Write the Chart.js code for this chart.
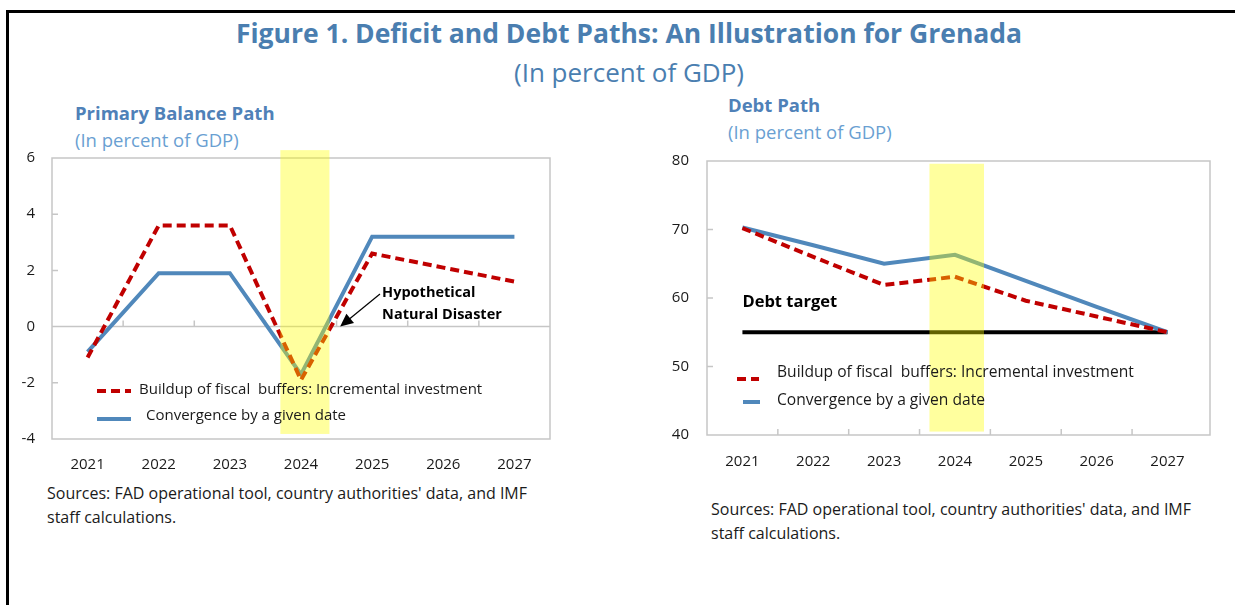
<!DOCTYPE html>
<html>
<head>
<meta charset="utf-8">
<script src="https://cdn.jsdelivr.net/npm/chart.js@4/dist/chart.umd.min.js"></script>
<style>
    body { margin: 0; width: 1235px; height: 605px; background: #fff; position: relative; overflow: hidden; font-family: "Open Sans", sans-serif; }
    .rule-top { position: absolute; left: 6px; top: 10px; width: 1229px; height: 3px; background: #000; }
    .rule-left { position: absolute; left: 6px; top: 10px; width: 3px; height: 595px; background: #000; }
    .txt { position: absolute; white-space: nowrap; }
    .fig-title { left: 229px; width: 800px; top: 16px; text-align: center; font-size: 26.5px; font-weight: 700; color: #4a7eb0; line-height: 34px; }
    .fig-sub { left: 229px; width: 800px; top: 55px; text-align: center; font-size: 26px; font-weight: 400; color: #4a7eb0; line-height: 34px; }
    .panel-title { font-size: 18.5px; font-weight: 700; color: #4f81b8; line-height: 26px; }
    .panel-sub { font-size: 18.5px; color: #6a9fd2; line-height: 26px; }
    .source { font-size: 16px; color: #1a1a1a; line-height: 24px; }
    canvas { position: absolute; }
</style>
</head>
<body>
<div class="rule-top"></div>
<div class="rule-left"></div>

<div class="txt fig-title">Figure 1. Deficit and Debt Paths: An Illustration for Grenada</div>
<div class="txt fig-sub">(In percent of GDP)</div>

<div class="txt panel-title" style="left:75px; top:100px;">Primary Balance Path</div>
<div class="txt panel-sub" style="left:75px; top:127px;">(In percent of GDP)</div>
<div class="txt panel-title" style="left:728px; top:92px;">Debt Path</div>
<div class="txt panel-sub" style="left:728px; top:119px;">(In percent of GDP)</div>

<canvas id="pbChart" width="560" height="339" style="left:10px; top:140px;"></canvas>
<canvas id="debtChart" width="565" height="333" style="left:665px; top:142px;"></canvas>

<div class="txt source" style="left:47px; top:481px;">Sources: FAD operational tool, country authorities' data, and IMF<br>staff calculations.</div>
<div class="txt source" style="left:711px; top:497px;">Sources: FAD operational tool, country authorities' data, and IMF<br>staff calculations.</div>

<script>
const years = ['2021', '2022', '2023', '2024', '2025', '2026', '2027'];

// primary balance, percent of GDP
const pbBuffers = [-1.1, 3.6, 3.6, -1.9, 2.6, 2.1, 1.6];
const pbConvergence = [-0.9, 1.9, 1.9, -1.7, 3.2, 3.2, 3.2];
const pbTicks = [-4, -2, 0, 2, 4, 6];

// debt, percent of GDP
const debtBuffers = [70.2, 66.0, 61.9, 63.1, 59.6, 57.3, 55.0];
const debtConvergence = [70.3, 67.7, 65.0, 66.3, 62.5, 58.7, 55.0];
const debtTarget = [55, 55, 55, 55, 55, 55, 55];
const debtTicks = [40, 50, 60, 70, 80];

// disaster year shading: [x from, x to, y from, y to]
const pbDisasterBand = [2023.71, 2024.4, 6.28, -3.82];
const debtDisasterBand = [2023.64, 2024.41, 79.6, 40.5];

const buffersLabel = 'Buildup of fiscal  buffers: Incremental investment';
const convergenceLabel = 'Convergence by a given date';

const RED = '#c00000';
const BLUE = '#5088bb';

Chart.defaults.font.family = '"Open Sans", sans-serif';
Chart.defaults.font.size = 15;
Chart.defaults.color = '#1a1a1a';

// grey box round the plot, short inward ticks, the baseline with category dividers
const framePlugin = {
    id: 'frame',
    beforeDatasetsDraw(chart, args, opts) {
        const ctx = chart.ctx;
        const a = chart.chartArea;
        const x = chart.scales.x, y = chart.scales.y;
        ctx.save();
        ctx.strokeStyle = '#c6c6c6';
        ctx.lineWidth = 1.5;
        ctx.strokeRect(a.left, a.top, a.right - a.left, a.bottom - a.top);
        ctx.beginPath();
        y.ticks.forEach(function (t) {
            let py = y.getPixelForValue(t.value);
            if (py <= a.top + 1 || py >= a.bottom - 1) return;
            ctx.moveTo(a.left, py);
            ctx.lineTo(a.left + 6, py);
        });
        let base = y.getPixelForValue(opts.base);
        if (base < a.bottom - 1) {
            ctx.moveTo(a.left, base);
            ctx.lineTo(a.right, base);
        }
        for (let i = 0; i < years.length - 1; i++) {
            let bx = x.getPixelForValue(+years[i] + 0.5);
            ctx.moveTo(bx, base);
            ctx.lineTo(bx, base - 6);
        }
        ctx.stroke();
        ctx.restore();
    }
};

// yellow band, legend and text notes on top of the lines
const overlayPlugin = {
    id: 'overlay',
    afterDatasetsDraw(chart, args, opts) {
        const ctx = chart.ctx;
        const a = chart.chartArea;
        const x = chart.scales.x, y = chart.scales.y;
        ctx.save();

        let b = opts.band;
        let bx0 = x.getPixelForValue(b[0]), bx1 = x.getPixelForValue(b[1]);
        let by0 = y.getPixelForValue(b[2]), by1 = y.getPixelForValue(b[3]);
        ctx.fillStyle = 'rgba(255, 255, 0, 0.38)';
        ctx.fillRect(bx0, by0, bx1 - bx0, by1 - by0);

        // legend
        ctx.font = opts.legendFont + 'px "Open Sans", sans-serif';
        ctx.textBaseline = 'middle';
        ctx.fillStyle = '#1a1a1a';
        opts.legend.forEach(function (item) {
            let ds = chart.data.datasets[item.dataset];
            ctx.strokeStyle = ds.borderColor;
            ctx.lineWidth = 4;
            ctx.setLineDash(ds.borderDash || []);
            ctx.beginPath();
            ctx.moveTo(a.left + item.x0, a.top + item.y);
            ctx.lineTo(a.left + item.x1, a.top + item.y);
            ctx.stroke();
            ctx.setLineDash([]);
            ctx.fillText(ds.label, a.left + item.tx, a.top + item.ty);
        });

        // notes
        ctx.fillStyle = '#000';
        (opts.notes || []).forEach(function (n) {
            ctx.font = 'bold ' + n.size + 'px "Open Sans", sans-serif';
            ctx.fillText(n.text, x.getPixelForValue(n.x), y.getPixelForValue(n.y));
        });

        if (opts.arrow) {
            let p0 = {x: x.getPixelForValue(opts.arrow[0]), y: y.getPixelForValue(opts.arrow[1])};
            let p1 = {x: x.getPixelForValue(opts.arrow[2]), y: y.getPixelForValue(opts.arrow[3])};
            let ang = Math.atan2(p1.y - p0.y, p1.x - p0.x);
            ctx.strokeStyle = '#000';
            ctx.lineWidth = 1.2;
            ctx.beginPath();
            ctx.moveTo(p0.x, p0.y);
            ctx.lineTo(p1.x - 10 * Math.cos(ang), p1.y - 10 * Math.sin(ang));
            ctx.stroke();
            ctx.beginPath();
            ctx.moveTo(p1.x, p1.y);
            ctx.lineTo(p1.x - 13 * Math.cos(ang) + 6 * Math.sin(ang), p1.y - 13 * Math.sin(ang) - 6 * Math.cos(ang));
            ctx.lineTo(p1.x - 13 * Math.cos(ang) - 6 * Math.sin(ang), p1.y - 13 * Math.sin(ang) + 6 * Math.cos(ang));
            ctx.closePath();
            ctx.fill();
        }
        ctx.restore();
    }
};

// fixed axis sizes; layout.padding alone decides where the plot box sits
function yearAxis(max, pad) {
    return {
        type: 'linear',
        min: 2020.5,
        max: max,
        afterBuildTicks: function (s) { s.ticks = years.map(v => ({value: +v})); },
        afterFit: function (s) { s.height = 40; s.paddingLeft = 0; s.paddingRight = 0; },
        ticks: {padding: pad, maxRotation: 0, autoSkip: false, callback: v => String(v)},
        grid: {display: false, drawTicks: false},
        border: {display: false}
    };
}

function valueAxis(ticks, pad) {
    return {
        min: ticks[0],
        max: ticks[ticks.length - 1],
        afterBuildTicks: function (s) { s.ticks = ticks.map(v => ({value: v})); },
        afterFit: function (s) { s.width = 42; s.paddingTop = 0; s.paddingBottom = 0; },
        ticks: {padding: pad},
        grid: {display: false, drawTicks: false},
        border: {display: false}
    };
}

function lineSet(label, data, color, dash, order) {
    return {
        label: label,
        data: data,
        borderColor: color,
        borderWidth: 4,
        borderDash: dash,
        pointRadius: 0,
        tension: 0,
        fill: false,
        order: order
    };
}

new Chart(document.getElementById('pbChart'), {
    type: 'line',
    data: {
        labels: years,
        datasets: [
            lineSet(buffersLabel, pbBuffers, RED, [9, 5], 1),
            lineSet(convergenceLabel, pbConvergence, BLUE, [], 2)
        ]
    },
    options: {
        responsive: false,
        animation: false,
        layout: {padding: {top: 18, right: 20, bottom: 0, left: 0}},
        scales: {x: yearAxis(2027.5, 17), y: valueAxis(pbTicks, 17)},
        plugins: {
            legend: {display: false},
            tooltip: {enabled: false},
            frame: {base: 0},
            overlay: {
                band: pbDisasterBand,
                legendFont: 15,
                legend: [
                    {dataset: 0, x0: 45, x1: 79, y: 233, tx: 87, ty: 232},
                    {dataset: 1, x0: 45, x1: 79, y: 261, tx: 94, ty: 258}
                ],
                notes: [
                    {text: 'Hypothetical', x: 2025.14, y: 1.2, size: 14.5},
                    {text: 'Natural Disaster', x: 2025.14, y: 0.4, size: 14.5}
                ],
                arrow: [2025.11, 1.16, 2024.55, 0.0]
            }
        }
    },
    plugins: [framePlugin, overlayPlugin]
});

new Chart(document.getElementById('debtChart'), {
    type: 'line',
    data: {
        labels: years,
        datasets: [
            lineSet(buffersLabel, debtBuffers, RED, [9, 5], 1),
            lineSet(convergenceLabel, debtConvergence, BLUE, [], 2),
            lineSet('Debt target', debtTarget, '#000', [], 3)
        ]
    },
    options: {
        responsive: false,
        animation: false,
        layout: {padding: {top: 19, right: 20, bottom: 0, left: 0}},
        scales: {x: yearAxis(2027.6, 18), y: valueAxis(debtTicks, 18)},
        plugins: {
            legend: {display: false},
            tooltip: {enabled: false},
            frame: {base: 40},
            overlay: {
                band: debtDisasterBand,
                legendFont: 15.6,
                legend: [
                    {dataset: 0, x0: 30, x1: 52, y: 218, tx: 70, ty: 212},
                    {dataset: 1, x0: 36, x1: 53, y: 241, tx: 70, ty: 240}
                ],
                notes: [
                    {text: 'Debt target', x: 2021.0, y: 59.4, size: 16.5}
                ]
            }
        }
    },
    plugins: [framePlugin, overlayPlugin]
});
</script>
</body>
</html>
